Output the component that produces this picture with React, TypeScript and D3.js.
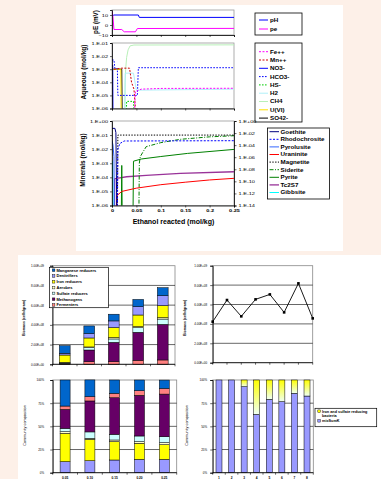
import React, { useEffect, useRef } from 'react';
import * as d3 from 'd3';

type Pt = [number, number];

// ---------- top figure: reaction path vs ethanol reacted (mol/kg)
const ethanolTicks = [0, 0.05, 0.1, 0.15, 0.2, 0.25];
const peTicks = [10, 0, -10];
const aqueousTicks = [1e-1, 1e-2, 1e-3, 1e-4, 1e-5, 1e-6];
const mineralTicks = [1, 1e-1, 1e-2, 1e-3, 1e-4, 1e-5, 1e-6];
const mineralRightTicks = [1, 1e-2, 1e-4, 1e-6, 1e-8, 1e-10, 1e-12, 1e-14];

const pH: Pt[] = [[0, 8.5], [0.003, 10], [0.054, 10], [0.056, 7.6], [0.25, 7.6]];
const pe: Pt[] = [[0, 14], [0.002, 8], [0.004, -4.5], [0.02, -4.5], [0.025, -6.8], [0.048, -6.8], [0.052, -3.5], [0.25, -3.4]];

const feII: Pt[] = [[0.045, 1e-7], [0.048, 2e-5], [0.06, 3e-5], [0.1, 3.4e-5], [0.25, 3.5e-5]];
const mnII: Pt[] = [[0.004, 1e-3], [0.02, 1.2e-3], [0.036, 1.2e-3], [0.04, 1e-4], [0.045, 3e-5], [0.05, 1e-7]];
const no3: Pt[] = [[0, 2e-3], [0.0015, 2e-3], [0.002, 1e-7]];
const hco3: Pt[] = [[0, 5e-3], [0.004, 5e-3], [0.006, 1.1e-3], [0.011, 1.1e-3], [0.012, 1e-5], [0.052, 1e-5], [0.054, 1.3e-3], [0.25, 1.3e-3]];
const hs: Pt[] = [[0.029, 1e-7], [0.03, 3.5e-6], [0.044, 3.5e-6], [0.046, 1e-7]];
const h2: Pt[] = [[0.026, 1e-7], [0.027, 5e-4], [0.044, 5e-4], [0.05, 2.5e-5], [0.25, 3e-5]];
const ch4: Pt[] = [[0.026, 1e-7], [0.027, 1e-4], [0.028, 1e-3], [0.03, 8e-3], [0.033, 3e-2], [0.037, 6e-2], [0.045, 7e-2], [0.25, 7.2e-2]];
const u6: Pt[] = [[0, 1e-3], [0.018, 1e-3], [0.019, 1e-7]];
const so4: Pt[] = [[0, 1e-3], [0.02, 1e-3], [0.021, 1e-7]];

const goethite: Pt[] = [[0, 3e-1], [0.006, 3e-1], [0.008, 1.5e-1], [0.01, 1e-7]];
const rhodochrosite: Pt[] = [[0.011, 1e-7], [0.012, 1e-2], [0.016, 2.5e-2], [0.025, 3.8e-2], [0.25, 4e-2]];
const pyrolusite: Pt[] = [[0, 4e-2], [0.002, 2e-2], [0.004, 3e-3], [0.005, 1e-7]];
const uraninite: Pt[] = [[0.008, 1e-7], [0.01, 5e-6], [0.02, 1e-5], [0.05, 1.7e-5], [0.1, 3e-5], [0.15, 4.5e-5], [0.2, 6.5e-5], [0.25, 8.5e-5]];
const magnetite: Pt[] = [[0.011, 1e-7], [0.012, 1e-1], [0.25, 1e-1]];
const siderite: Pt[] = [[0.055, 1e-7], [0.056, 1e-3], [0.058, 3e-3], [0.07, 1.5e-2], [0.1, 2.9e-2], [0.14, 5e-2], [0.2, 7.5e-2], [0.25, 9e-2]];
const pyrite: Pt[] = [[0.019, 1e-7], [0.02, 7e-4], [0.021, 1e-7], [0.043, 1e-7], [0.044, 1.4e-3], [0.06, 2e-3], [0.1, 3e-3], [0.155, 5e-3], [0.25, 9.6e-3]];
const tc2s7: Pt[] = [[0.005, 1e-7], [0.0055, 8e-5], [0.03, 1.1e-4], [0.07, 1.4e-4], [0.14, 1.9e-4], [0.25, 2.5e-4]];
const gibbsite: Pt[] = [[0, 1.3e-3], [0.001, 1.3e-3], [0.002, 1e-5], [0.0025, 1e-7]];

// ---------- bottom figure: microbial community
const runLabels = ['0.05', '0.10', '0.15', '0.20', '0.25'];
const groupNames = ['Manganese reducers', 'Denitrifiers', 'Iron reducers', 'Aerobes', 'Sulfate reducers', 'Methanogens', 'Fermenters'];
const groupColors = ['#0066CC', '#9999FF', '#FFFF00', '#FFFFCC', '#CCFFFF', '#660066', '#FF8080'];

// biomass, cells/gram
const manganeseBiomass = [0.78e8, 0.78e8, 0.68e8, 0.74e8, 0.81e8];
const denitrifierBiomass = [0.17e8, 0.44e8, 0.68e8, 0.84e8, 1.01e8];
const ironBiomass = [0.74e8, 0.91e8, 1.01e8, 1.18e8, 1.22e8];
const aerobeBiomass = [0.04e8, 0.07e8, 0.14e8, 0.1e8, 0.14e8];
const sulfateBiomass = [0.06e8, 0.24e8, 0.34e8, 0.47e8, 0.54e8];
const methanogenBiomass = [0.06e8, 1.18e8, 1.96e8, 2.84e8, 3.61e8];
const fermenterBiomass = [0.04e8, 0.27e8, 0.27e8, 0.41e8, 0.44e8];

// community composition, %
const manganesePct = [28.1, 18.0, 14.4, 11.5, 9.0];
const denitrifierPct = [11.9, 12.9, 13.7, 14.4, 14.4];
const ironPct = [30.5, 23.1, 19.8, 17.3, 15.8];
const aerobePct = [1.8, 1.1, 1.8, 1.8, 2.2];
const sulfatePct = [3.6, 6.9, 6.1, 6.1, 6.4];
const methanogenPct = [20.5, 33.4, 39.5, 43.9, 46.0];
const fermenterPct = [3.6, 4.7, 4.7, 5.0, 6.1];

const sampleIds = ['1', '2', '3', '4', '5', '6', '7', '8'];
const totalBiomass = [4.23e8, 6.46e8, 4.78e8, 6.53e8, 7.04e8, 5.19e8, 8.18e8, 4.57e8];
const mixPct = [100, 100, 92.8, 62.9, 79.1, 76.6, 85.6, 82.7];
const ironSulfatePct = [0, 0, 7.2, 37.1, 20.9, 23.4, 14.4, 17.3];

const biomassTicks = [0, 2e8, 4e8, 6e8, 8e8, 1e9];
const pctTicks = [0, 25, 50, 75, 100];

const FONT = "'Liberation Sans', Arial, sans-serif";
const ST = 1.4; // small tick text of the top figure is drawn wide
const LST = 1.2; // legend text stretch

const logLabel = (d: number) => {
  const e = Math.round(Math.log10(d));
  return `1.E${e < 0 ? '-' : '+'}${String(Math.abs(e)).padStart(2, '0')}`;
};
const sciLabel = (d: number) => {
  if (d === 0) return '0.00E+00';
  const e = Math.floor(Math.log10(d) + 1e-9);
  return `${(d / 10 ** e).toFixed(2)}E+${String(e).padStart(2, '0')}`;
};

const App = () => {
  const ref = useRef<SVGSVGElement>(null);

  useEffect(() => {
    const svg = d3.select(ref.current);
    svg.selectAll('*').remove();
    const defs = svg.append('defs');

    svg.append('rect').attr('width', 381).attr('height', 479).attr('fill', '#FDF0E8');
    svg.append('rect').attr('x', 76).attr('y', 5).attr('width', 267).attr('height', 246).attr('fill', '#fff');
    svg.append('rect').attr('x', 18).attr('y', 255).attr('width', 363).attr('height', 224).attr('fill', '#fff');

    const styleAxis = (g: any, size: number) => {
      g.attr('font-family', FONT).attr('font-size', size);
      g.select('.domain').attr('stroke', '#000').attr('stroke-width', 0.8);
      g.selectAll('.tick line').attr('stroke', '#000').attr('stroke-width', 0.6);
      g.selectAll('.tick text').attr('fill', '#000');
    };
    const stretchLeft = (g: any, off: number) =>
      g.selectAll('.tick text').attr('transform', `scale(${ST},1)`).attr('x', -off / ST);
    const stretchRight = (g: any, off: number) =>
      g.selectAll('.tick text').attr('transform', `scale(${ST},1)`).attr('x', off / ST);

    // ===== top figure
    const X0 = 112, X1 = 234;
    const x = d3.scaleLinear().domain([0, 0.25]).range([X0, X1]);

    const frame = (y0: number, y1: number, id: string) => {
      svg.append('rect').attr('x', X0).attr('y', y0).attr('width', X1 - X0).attr('height', y1 - y0)
        .attr('fill', 'none').attr('stroke', '#999').attr('stroke-width', 0.8);
      defs.append('clipPath').attr('id', id).append('rect')
        .attr('x', X0).attr('y', y0).attr('width', X1 - X0).attr('height', y1 - y0);
    };

    const drawLines = (series: any[], y: any, id: string) => {
      const line = d3.line<Pt>().x(d => x(d[0])).y(d => y(d[1]));
      const g = svg.append('g').attr('clip-path', `url(#${id})`);
      series.forEach(s => {
        g.append('path').attr('d', line(s.data)).attr('fill', 'none')
          .attr('stroke', s.color).attr('stroke-width', s.width || 1)
          .attr('stroke-dasharray', s.dash || null);
      });
    };

    const legend = (bx: number, by: number, bw: number, bh: number, series: any[], y0: number, step: number, s0: number, s1: number, tx: number) => {
      svg.append('rect').attr('x', bx).attr('y', by).attr('width', bw).attr('height', bh)
        .attr('fill', '#fff').attr('stroke', '#000').attr('stroke-width', 0.8);
      series.forEach((s, i) => {
        const yy = y0 + i * step;
        svg.append('line').attr('x1', s0).attr('x2', s1).attr('y1', yy).attr('y2', yy)
          .attr('stroke', s.color).attr('stroke-width', s.width || 1).attr('stroke-dasharray', s.dash || null);
        svg.append('text').attr('transform', `translate(${tx},${yy + 1.9}) scale(${LST},1)`)
          .attr('font-family', FONT).attr('font-size', 5.2).attr('font-weight', 'bold').text(s.name);
      });
    };

    const yTitle = (cx: number, cy: number, label: string, size: number, bold = true) =>
      svg.append('text').attr('transform', `translate(${cx},${cy}) rotate(-90)`)
        .attr('text-anchor', 'middle').attr('dominant-baseline', 'central')
        .attr('font-family', FONT).attr('font-size', size).attr('font-weight', bold ? 'bold' : 'normal').text(label);

    // panel 1: pH / pe
    const yPe = d3.scaleLinear().domain([-10, 15]).range([35, 10]);
    const redoxSeries = [
      { name: 'pH', data: pH, color: '#0000FF' },
      { name: 'pe', data: pe, color: '#FF00FF' },
    ];
    frame(10, 35, 'clipPe');
    drawLines(redoxSeries, yPe, 'clipPe');
    const gPe = svg.append('g').attr('transform', `translate(${X0},0)`)
      .call(d3.axisLeft(yPe).tickValues(peTicks).tickSize(2).tickPadding(2));
    styleAxis(gPe, 4); stretchLeft(gPe, 4);
    const gPeB = svg.append('g').attr('transform', `translate(0,35)`)
      .call(d3.axisBottom(x).tickValues(ethanolTicks).tickSize(2).tickFormat(() => ''));
    styleAxis(gPeB, 4);
    yTitle(95, 22, 'pE (mV)', 6.3);
    legend(255, 13, 47, 22, redoxSeries, 20, 9, 259, 268, 270);

    // panel 2: aqueous species
    const yAq = d3.scaleLog().domain([1e-6, 1e-1]).range([108.5, 43]);
    const aqueousSeries = [
      { name: 'Fe++', data: feII, color: '#FF00FF', dash: '2,1.5' },
      { name: 'Mn++', data: mnII, color: '#CC0000', dash: '2,1.5' },
      { name: 'NO3-', data: no3, color: '#0000FF' },
      { name: 'HCO3-', data: hco3, color: '#0000FF', dash: '1.6,1.4' },
      { name: 'HS-', data: hs, color: '#00CC00', dash: '1.6,1.4' },
      { name: 'H2', data: h2, color: '#B0F0F8' },
      { name: 'CH4', data: ch4, color: '#B8F0B8' },
      { name: 'U(VI)', data: u6, color: '#FFE000' },
      { name: 'SO42-', data: so4, color: '#000000' },
    ];
    frame(43, 108.5, 'clipAq');
    drawLines(aqueousSeries.slice().reverse(), yAq, 'clipAq');
    const gAq = svg.append('g').attr('transform', `translate(${X0},0)`)
      .call(d3.axisLeft(yAq).tickValues(aqueousTicks).tickSize(2).tickPadding(2).tickFormat(logLabel as any));
    styleAxis(gAq, 4); stretchLeft(gAq, 4);
    const gAqB = svg.append('g').attr('transform', `translate(0,108.5)`)
      .call(d3.axisBottom(x).tickValues(ethanolTicks).tickSize(2).tickFormat(() => ''));
    styleAxis(gAqB, 4);
    yTitle(83, 72, 'Aqueous (mol/kg)', 6.5);
    legend(255, 43, 47, 79, aqueousSeries, 51.7, 8.3, 259, 268, 270);

    // panel 3: minerals
    const yMin = d3.scaleLog().domain([1e-6, 1]).range([205.5, 121]);
    const yMinR = d3.scaleLog().domain([1e-14, 1]).range([205.5, 121]);
    const mineralSeries = [
      { name: 'Goethite', data: goethite, color: '#000080' },
      { name: 'Rhodochrosite', data: rhodochrosite, color: '#0000FF', dash: '2,1.5' },
      { name: 'Pyrolusite', data: pyrolusite, color: '#3366FF' },
      { name: 'Uraninite', data: uraninite, color: '#FF0000' },
      { name: 'Magnetite', data: magnetite, color: '#000000', dash: '1.4,1.4' },
      { name: 'Siderite', data: siderite, color: '#008000', dash: '4,1.5,1,1.5' },
      { name: 'Pyrite', data: pyrite, color: '#008000' },
      { name: 'Tc2S7', data: tc2s7, color: '#993399', width: 1.3 },
      { name: 'Gibbsite', data: gibbsite, color: '#00FFFF' },
    ];
    frame(121, 205.5, 'clipMin');
    drawLines(mineralSeries.slice().reverse(), yMin, 'clipMin');
    const gMin = svg.append('g').attr('transform', `translate(${X0},0)`)
      .call(d3.axisLeft(yMin).tickValues(mineralTicks).tickSize(2).tickPadding(2).tickFormat(logLabel as any));
    styleAxis(gMin, 4); stretchLeft(gMin, 4);
    const gMinR = svg.append('g').attr('transform', `translate(${X1},0)`)
      .call(d3.axisRight(yMinR).tickValues(mineralRightTicks).tickSize(2.5).tickPadding(2).tickFormat(logLabel as any));
    styleAxis(gMinR, 4); stretchRight(gMinR, 4.5);
    const gMinB = svg.append('g').attr('transform', `translate(0,205.5)`)
      .call(d3.axisBottom(x).tickValues(ethanolTicks).tickSize(2).tickPadding(2).tickFormat(d3.format('~g') as any));
    styleAxis(gMinB, 4);
    gMinB.selectAll('.tick text').attr('transform', `scale(${ST},1)`).attr('font-weight', 'bold');
    yTitle(82.5, 160, 'Minerals (mol/kg)', 6.5);
    legend(267.5, 128, 62, 71, mineralSeries, 131.7, 7.6, 269.5, 279, 280.5);

    svg.append('text').attr('x', 173.5).attr('y', 224).attr('text-anchor', 'middle')
      .attr('font-family', FONT).attr('font-size', 7).attr('font-weight', 'bold')
      .text('Ethanol reacted (mol/kg)');

    // ===== bottom figure helpers
    const plotBox = (x0: number, x1: number, y0: number, y1: number, grid: number[], y: any) => {
      svg.append('rect').attr('x', x0).attr('y', y0).attr('width', x1 - x0).attr('height', y1 - y0)
        .attr('fill', 'none').attr('stroke', '#888').attr('stroke-width', 0.8);
      grid.forEach(t => svg.append('line').attr('x1', x0).attr('x2', x1).attr('y1', y(t)).attr('y2', y(t))
        .attr('stroke', '#000').attr('stroke-width', 0.6));
    };
    const leftAxis = (x0: number, y: any, ticks: number[], fmt: any, pad: number) => {
      const g = svg.append('g').attr('transform', `translate(${x0},0)`)
        .call(d3.axisLeft(y).tickValues(ticks).tickSize(2.5).tickPadding(pad).tickFormat(fmt));
      styleAxis(g, 3);
    };
    const catAxis = (band: any, y0: number, labels: boolean) => {
      const [r0, r1] = band.range();
      svg.append('line').attr('x1', r0).attr('x2', r1).attr('y1', y0).attr('y2', y0).attr('stroke', '#000').attr('stroke-width', 0.8);
      const edges = band.domain().map((c: string) => band(c)).concat([r1]);
      edges.forEach((e: number) => svg.append('line').attr('x1', e).attr('x2', e).attr('y1', y0).attr('y2', y0 + 2)
        .attr('stroke', '#000').attr('stroke-width', 0.6));
      if (labels) band.domain().forEach((c: string) => svg.append('text')
        .attr('x', band(c) + band.bandwidth() / 2).attr('y', y0 + 6).attr('text-anchor', 'middle')
        .attr('font-family', FONT).attr('font-size', 3.2).attr('font-weight', 'bold').text(c));
    };

    // biomass stacked bars
    const biomassStackOrder = [6, 5, 4, 3, 2, 1, 0];
    const biomassSeries = [manganeseBiomass, denitrifierBiomass, ironBiomass, aerobeBiomass, sulfateBiomass, methanogenBiomass, fermenterBiomass];
    const biomassRows = runLabels.map((r, i) => {
      const row: any = { run: r };
      groupNames.forEach((g, k) => { row[g] = biomassSeries[k][i]; });
      return row;
    });
    const bx = d3.scaleBand().domain(runLabels).range([52.5, 175]);
    const by = d3.scaleLinear().domain([0, 1e9]).range([364.3, 265.7]);
    plotBox(52.5, 175, 265.7, 364.3, [2e8, 4e8, 6e8, 8e8], by);
    const bStack = d3.stack().keys(biomassStackOrder.map(k => groupNames[k]))(biomassRows);
    const bw = bx.bandwidth() * 0.44;
    bStack.forEach(layer => {
      const color = groupColors[groupNames.indexOf(layer.key)];
      layer.forEach((d: any) => {
        svg.append('rect').attr('x', bx(d.data.run)! + (bx.bandwidth() - bw) / 2).attr('width', bw)
          .attr('y', by(d[1])).attr('height', by(d[0]) - by(d[1]))
          .attr('fill', color).attr('stroke', '#000').attr('stroke-width', 0.5);
      });
    });
    leftAxis(52.5, by, biomassTicks, sciLabel, 6);
    catAxis(bx, 364.3, false);
    yTitle(24, 318, 'Biomass (cells/gram)', 3.6);
    // legend
    svg.append('rect').attr('x', 49.5).attr('y', 267.3).attr('width', 59).attr('height', 40.4)
      .attr('fill', '#fff').attr('stroke', '#000').attr('stroke-width', 0.7);
    groupNames.forEach((g, i) => {
      const yy = 270.2 + i * 5.8;
      svg.append('rect').attr('x', 52.3).attr('y', yy - 1.3).attr('width', 2.6).attr('height', 2.6)
        .attr('fill', groupColors[i]).attr('stroke', '#000').attr('stroke-width', 0.4);
      svg.append('text').attr('x', 56.5).attr('y', yy + 1.4).attr('font-family', FONT)
        .attr('font-size', 4).attr('font-weight', 'bold').text(g);
    });

    // total biomass line
    const lx = d3.scalePoint().domain(sampleIds).range([212.7, 312.7]);
    const ly = d3.scaleLinear().domain([0, 1e9]).range([362.7, 265.7]);
    plotBox(212.7, 312.7, 265.7, 362.7, [2e8, 4e8, 6e8, 8e8], ly);
    const biomassLine = d3.line<number>().x((_, i) => lx(sampleIds[i])!).y(d => ly(d));
    svg.append('path').attr('d', biomassLine(totalBiomass)).attr('fill', 'none').attr('stroke', '#000').attr('stroke-width', 0.9);
    totalBiomass.forEach((v, i) => svg.append('rect').attr('x', lx(sampleIds[i])! - 1.3).attr('y', ly(v) - 1.3)
      .attr('width', 2.6).attr('height', 2.6).attr('fill', '#000'));
    leftAxis(212.7, ly, biomassTicks, sciLabel, 3);
    svg.append('line').attr('x1', 212.7).attr('x2', 312.7).attr('y1', 362.7).attr('y2', 362.7).attr('stroke', '#000').attr('stroke-width', 0.8);
    sampleIds.forEach(s => svg.append('line').attr('x1', lx(s)!).attr('x2', lx(s)!).attr('y1', 362.7).attr('y2', 364.7)
      .attr('stroke', '#000').attr('stroke-width', 0.6));
    yTitle(185, 318, 'Biomass (cells/gram)', 3.6);

    // community composition, left
    const compOrder = [1, 2, 3, 4, 5, 6, 0];
    const compSeries = [manganesePct, denitrifierPct, ironPct, aerobePct, sulfatePct, methanogenPct, fermenterPct];
    const compRows = runLabels.map((r, i) => {
      const row: any = { run: r };
      groupNames.forEach((g, k) => { row[g] = compSeries[k][i]; });
      return row;
    });
    const cx = d3.scaleBand().domain(runLabels).range([52.7, 176.7]);
    const cy = d3.scaleLinear().domain([0, 100]).range([472.7, 380]);
    plotBox(52.7, 176.7, 380, 472.7, [25, 50, 75], cy);
    const cStack = d3.stack().keys(compOrder.map(k => groupNames[k]))(compRows);
    const cw = 10;
    cStack.forEach(layer => {
      const color = groupColors[groupNames.indexOf(layer.key)];
      layer.forEach((d: any) => {
        svg.append('rect').attr('x', cx(d.data.run)! + (cx.bandwidth() - cw) / 2).attr('width', cw)
          .attr('y', cy(d[1])).attr('height', cy(d[0]) - cy(d[1]))
          .attr('fill', color).attr('stroke', '#000').attr('stroke-width', 0.5);
      });
    });
    leftAxis(52.7, cy, pctTicks, (d: number) => `${d}%`, 6);
    catAxis(cx, 472.7, true);
    yTitle(25, 425.5, 'Community composition', 3.8, false);

    // community composition, right
    const grad = defs.append('linearGradient').attr('id', 'ironSulfateFill').attr('x1', 0).attr('y1', 0).attr('x2', 0).attr('y2', 1);
    grad.append('stop').attr('offset', '0%').attr('stop-color', '#FFFF00');
    grad.append('stop').attr('offset', '100%').attr('stop-color', '#EEFFF4');
    const rx = d3.scaleBand().domain(sampleIds).range([212.7, 313.3]);
    plotBox(212.7, 313.3, 380, 472.7, [25, 50, 75], cy);
    const rRows = sampleIds.map((s, i) => ({ id: s, mix: mixPct[i], ironSulfate: ironSulfatePct[i] }));
    const rStack = d3.stack().keys(['mix', 'ironSulfate'])(rRows as any);
    const rFill = ['#9999FF', 'url(#ironSulfateFill)'];
    const rw = 6;
    rStack.forEach((layer, k) => layer.forEach((d: any) => {
      if (d[1] - d[0] <= 0) return;
      svg.append('rect').attr('x', rx(d.data.id)! + (rx.bandwidth() - rw) / 2).attr('width', rw)
        .attr('y', cy(d[1])).attr('height', cy(d[0]) - cy(d[1]))
        .attr('fill', rFill[k]).attr('stroke', '#000').attr('stroke-width', 0.5);
    }));
    leftAxis(212.7, cy, pctTicks, (d: number) => `${d}%`, 3);
    catAxis(rx, 472.7, true);
    yTitle(187, 425.5, 'Community composition', 3.8, false);
    svg.append('rect').attr('x', 315).attr('y', 408.3).attr('width', 61.7).attr('height', 18.4)
      .attr('fill', '#fff').attr('stroke', '#000').attr('stroke-width', 0.7);
    const rLegend = [
      { lines: ['Iron and sulfate reducing', 'bacteria'], fill: '#FFFF00', y: 411.2 },
      { lines: ['mixSumK'], fill: '#9999FF', y: 420.8 },
    ];
    rLegend.forEach(e => {
      svg.append('rect').attr('x', 317.8).attr('y', e.y - 1.3).attr('width', 2.6).attr('height', 2.6)
        .attr('fill', e.fill).attr('stroke', '#000').attr('stroke-width', 0.4);
      e.lines.forEach((t, j) => svg.append('text').attr('x', 322).attr('y', e.y + 1.4 + j * 4.2)
        .attr('font-family', FONT).attr('font-size', 3.8).attr('font-weight', 'bold').text(t));
    });
  }, []);

  return (
    <div style={{ position: 'absolute', left: 0, top: 0, width: 381, height: 479 }}>
      <svg ref={ref} width={381} height={479} style={{ display: 'block' }}></svg>
    </div>
  );
};

export default App;
